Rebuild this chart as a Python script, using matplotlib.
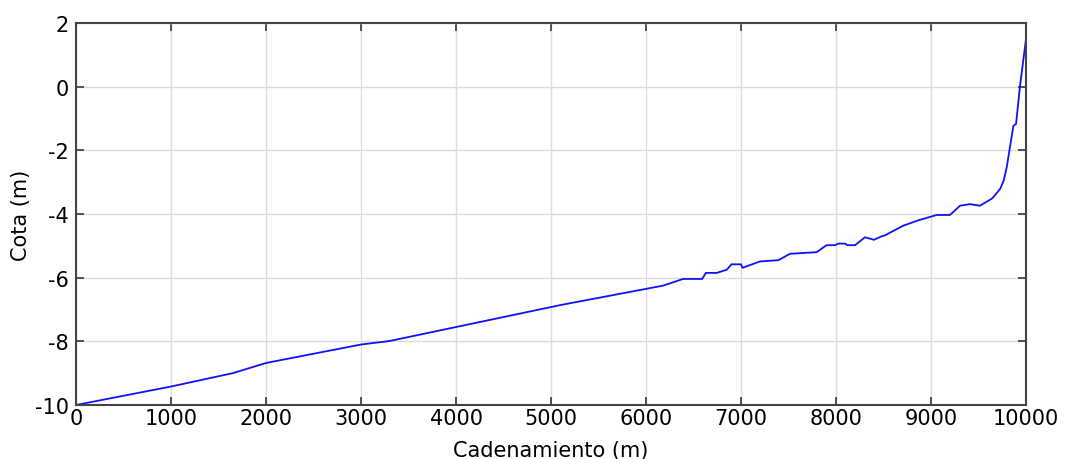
import matplotlib
matplotlib.use("Agg")
import matplotlib.pyplot as plt

plt.rcParams["axes.unicode_minus"] = False

# Perfil longitudinal: cadenamiento (m) vs cota (m)
cadenamiento = [0, 1000, 1650, 2000, 3000, 3300, 5100, 6180, 6390, 6590, 6630,
                6745, 6850, 6900, 7000, 7015, 7200, 7395, 7515, 7795, 7900,
                7990, 8025, 8095, 8120, 8200, 8305, 8400, 8480, 8515, 8705,
                8865, 9060, 9200, 9305, 9410, 9515, 9645, 9730, 9765, 9797,
                9867, 9895, 9937, 10000]
cota = [-10.0, -9.42, -9.0, -8.68, -8.1, -7.99, -6.86, -6.25, -6.04, -6.04,
        -5.85, -5.85, -5.75, -5.58, -5.58, -5.69, -5.49, -5.45, -5.25, -5.2,
        -4.98, -4.98, -4.93, -4.93, -4.98, -4.98, -4.73, -4.81, -4.70, -4.67,
        -4.37, -4.2, -4.03, -4.03, -3.74, -3.69, -3.74, -3.51, -3.2, -2.95,
        -2.53, -1.23, -1.17, 0.03, 1.5]

xticks = [0, 1000, 2000, 3000, 4000, 5000, 6000, 7000, 8000, 9000, 10000]
yticks = [-10, -8, -6, -4, -2, 0, 2]

fig = plt.figure(figsize=(10.65, 4.6), dpi=100)
ax = fig.add_axes([0.0714, 0.1174, 0.892, 0.8304])

ax.plot(cadenamiento, cota, color="#1010ff", lw=1.3)

ax.set_xlim(0, 10000)
ax.set_ylim(-10, 2)
ax.set_xticks(xticks)
ax.set_yticks(yticks)
ax.grid(True, color="#dcdcdc", lw=1)
ax.set_axisbelow(True)

for s in ax.spines.values():
    s.set_color("#444444")
    s.set_linewidth(1.5)

ax.tick_params(direction="in", top=True, right=True, length=6, width=1.3,
               color="#444444", labelsize=15)
ax.tick_params(axis="x", pad=2)
ax.tick_params(axis="y", pad=5)

ax.set_xlabel("Cadenamiento (m)", fontsize=15, labelpad=9)
ax.set_ylabel("Cota (m)", fontsize=15, labelpad=3)

fig.savefig("out.png", dpi=100)
